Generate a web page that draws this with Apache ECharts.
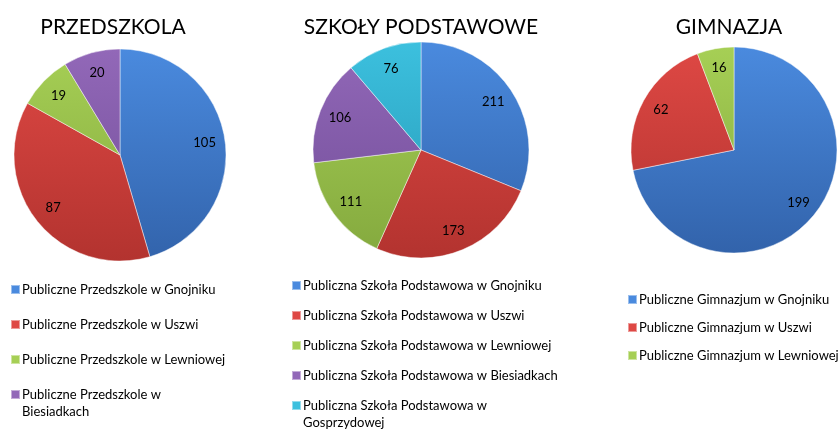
<!DOCTYPE html>
<html>
<head>
<meta charset="utf-8">
<script src="https://cdn.jsdelivr.net/npm/echarts@6/dist/echarts.min.js"></script>
<style>
  html, body { margin: 0; padding: 0; background: #ffffff; }
  #chart { width: 839px; height: 430px; }
</style>
</head>
<body>
<div id="chart"></div>
<script>
// ---- data ----
const titles = ['PRZEDSZKOLA', 'SZKOŁY PODSTAWOWE', 'GIMNAZJA'];

const przedszkolaNames = [
  'Publiczne Przedszkole w Gnojniku',
  'Publiczne Przedszkole w Uszwi',
  'Publiczne Przedszkole w Lewniowej',
  'Publiczne Przedszkole w Biesiadkach'
];
const przedszkolaValues = [105, 87, 19, 20];

const szkolyNames = [
  'Publiczna Szkoła Podstawowa w Gnojniku',
  'Publiczna Szkoła Podstawowa w Uszwi',
  'Publiczna Szkoła Podstawowa w Lewniowej',
  'Publiczna Szkoła Podstawowa w Biesiadkach',
  'Publiczna Szkoła Podstawowa w Gosprzydowej'
];
const szkolyValues = [211, 173, 111, 106, 76];

const gimnazjaNames = [
  'Publiczne Gimnazjum w Gnojniku',
  'Publiczne Gimnazjum w Uszwi',
  'Publiczne Gimnazjum w Lewniowej'
];
const gimnazjaValues = [199, 62, 16];

// legend names that wrap onto two lines: [first line, second line]
const wrapped = {
  'Publiczne Przedszkole w Biesiadkach': ['Publiczne Przedszkole w', 'Biesiadkach'],
  'Publiczna Szkoła Podstawowa w Gosprzydowej': ['Publiczna Szkoła Podstawowa w', 'Gosprzydowej']
};

// ---- styling ----
const palette = [
  ['#4a8ade', '#3263ab'], // blue
  ['#de4844', '#b3332f'], // red
  ['#a6cf55', '#84a93e'], // green
  ['#9268b8', '#714d98'], // purple
  ['#3cc0de', '#2597b5']  // cyan
];
const FONT = 'Lato';

const pies = [
  { names: przedszkolaNames, values: przedszkolaValues, cx: 120, cy: 155, r: 106 },
  { names: szkolyNames, values: szkolyValues, cx: 421, cy: 150, r: 108 },
  { names: gimnazjaNames, values: gimnazjaValues, cx: 734, cy: 150, r: 103 }
];

function grad(i, p) {
  return {
    type: 'linear', global: true,
    x: 0, y: p.cy - p.r, x2: 0, y2: p.cy + p.r,
    colorStops: [
      { offset: 0, color: palette[i][0] },
      { offset: 1, color: palette[i][1] }
    ]
  };
}

const series = [];
pies.forEach(function (p, k) {
  series.push({
    type: 'pie',
    name: 'pie' + k,
    center: [p.cx, p.cy],
    radius: [0, p.r],
    startAngle: 90,
    clockwise: true,
    animation: false,
    label: { show: false },
    labelLine: { show: false },
    emphasis: { disabled: true },
    itemStyle: { borderColor: 'rgba(255,255,255,0.45)', borderWidth: 1 },
    data: p.names.map(function (n, i) {
      return { name: n, value: p.values[i], itemStyle: { color: grad(i, p) } };
    })
  });
  // label layer (transparent ring to place labels at ~0.78 r)
  series.push({
    type: 'pie',
    name: 'labels' + k,
    center: [p.cx, p.cy],
    radius: [Math.round(p.r * 0.56), p.r],
    startAngle: 90,
    clockwise: true,
    animation: false,
    silent: true,
    legendHoverLink: false,
    itemStyle: { color: 'rgba(0,0,0,0)', borderWidth: 0 },
    label: {
      show: true, position: 'inside', formatter: '{c}',
      color: '#000', fontSize: 13, fontFamily: FONT
    },
    labelLine: { show: false },
    emphasis: { disabled: true },
    data: p.names.map(function (n, i) {
      return { name: n, value: p.values[i] };
    })
  });
});

const legendText = { fontFamily: FONT, fontSize: 13, color: '#000', lineHeight: 17 };

function legend(names, left, top, gap) {
  return {
    orient: 'vertical',
    left: left, top: top,
    width: 240, height: 300,
    padding: 0,
    itemWidth: 9, itemHeight: 9,
    itemGap: gap,
    icon: 'rect',
    selectedMode: false,
    data: names.map(function (n) {
      if (wrapped[n]) {
        return {
          name: n,
          textStyle: Object.assign({}, legendText, {
            padding: [0, 0, -17, -3],
            rich: { a: Object.assign({}, legendText) }
          })
        };
      }
      return { name: n };
    }),
    formatter: function (n) {
      if (wrapped[n]) return '{a|' + wrapped[n][0] + '}\n{a|' + wrapped[n][1] + '}';
      return n;
    },
    textStyle: Object.assign({}, legendText, { padding: [0, 0, 0, -3] })
  };
}

const titleStyle = { fontFamily: FONT, fontSize: 21, fontWeight: 'normal', color: '#000' };

const option = {
  backgroundColor: '#ffffff',
  animation: false,
  title: [
    { text: titles[0], left: 113, top: 17, padding: 0, textAlign: 'center', textStyle: titleStyle },
    { text: titles[1], left: 421, top: 17, padding: 0, textAlign: 'center', textStyle: titleStyle },
    { text: titles[2], left: 729, top: 17, padding: 0, textAlign: 'center', textStyle: titleStyle }
  ],
  legend: [
    legend(przedszkolaNames, 10, 281, 18),
    legend(szkolyNames, 291, 277, 13),
    legend(gimnazjaNames, 627, 291, 11)
  ],
  series: series
};

const chart = echarts.init(document.getElementById('chart'), null, { renderer: 'canvas' });
chart.setOption(option);
</script>
</body>
</html>
